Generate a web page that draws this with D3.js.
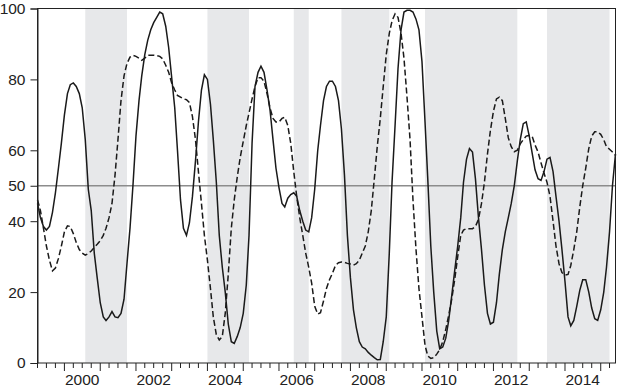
<!DOCTYPE html>
<html><head><meta charset="utf-8">
<script src="https://cdn.jsdelivr.net/npm/d3@7"></script>
<style>body{margin:0;background:#fff}svg{display:block;font-family:"Liberation Sans",Arial,sans-serif}</style>
</head><body><svg id="c" width="617" height="388"></svg>
<script>
// monthly observations from 1999-04 to 2015-06
const startMonth = "1999-04";
const endMonth = "2015-06";
const solidSeries = [
45,41,38.5,37.5,38.5,42.5,48,55,62,
70,76,78.5,79,78,76,72,63,49,43,31,24,
17,13,12,13,14.5,13,12.8,14,18,28,38,50,
64,74,81,87,91,94,96,97.5,99,98.5,95,89,
80.5,72,60,46,38,36,39.5,47,57,68,77,81.3,
80,73,63,51,36,27,20,11,6,5.5,7.5,10,
14,22,36,62,78,82,83.7,82,77,71.5,63,55,
49.5,45,44,46.5,47.5,48,47,43,40,37.5,37,41,
49,60,67,74,78,79.5,79.5,78,74,66,53,36,
24,15,10,6,4.5,4,3,2.2,1.5,0.9,1,6,
13,31,51,67,83,94,99,99.5,99.5,99,97,94,
85,68,52,33,20,9,4,4.5,7,12,19,26,
33,41,51,57.5,60.5,59.5,52,41,32,22,14,11,
11.5,17,25,32,37,41,45,50,57,63,67.5,68,
64,59,54.5,52,51.5,54,57.5,58,54,47,40,32,
23,13,10.5,12,16,20.5,23.5,23.5,20,15.5,12.5,12,
15,20,27,37,50,59];
const dashedSeries = [
46,43,38,33,29,26,26.8,29.5,33,
37,38.7,38.5,36.5,34,32,31,30.4,30.9,31.6,32.6,33.5,
34.5,36,38,41,45,53,63,74,81,84.5,86.3,86.8,
86.5,86,85.4,86,86.8,86.8,86.8,86.7,86.5,85.8,84,82,
79,77,75.5,75,74.5,74.3,73.5,69.5,63,54,45,36,
29,21,13,8,6.5,7.5,14,25,38,46,52.5,58,
62.5,67,70.5,74.5,78,80.5,80.5,79.5,76,72,69,68,
68,69,69.3,67,62,54,47,41,36,31,27,22.5,
16,13.8,14.2,17.5,21,23.5,25.3,27.5,28.3,28.5,28.4,28.1,
27.9,27.6,28,29,31,33,37,43,52,61,69,78,
87,93,96.5,98.5,97.5,93,86,75,63,46,32,21,
13,5,2,1.3,1.5,2.5,3.8,6,9.5,13.5,18,23.5,
30,36,37.5,37.9,37.9,37.9,38.5,40.5,45,51,59,65.6,
71,74.5,75,74,69,63.5,61,59.6,60,61.8,63,64,
64.2,63.8,61.5,59.5,56.5,53.5,51,47,40,33,28,25.5,
24.8,25,27.5,32,37,44,50,55,60.5,64,65.2,65.2,
64.5,63,61,60.3,59.5,58.6];
const shadeStarts = ["2000-08","2004-01","2006-06","2007-10","2010-02","2013-07"];
const shadeEnds   = ["2001-10","2005-03","2006-11","2009-02","2012-09","2015-04"];
const yTicks = [0,20,40,50,60,80,100];
const yearLabels = [2000,2002,2004,2006,2008,2010,2012,2014];
const refLevel = 50;

const parse = d3.timeParse("%Y-%m");
const t0 = parse(startMonth), t1 = parse(endMonth);
const months = d3.timeMonth.range(t0, d3.timeMonth.offset(t1, 1));

const L = 37.5, R = 615.5, T = 8.5, B = 363;
const x = d3.scaleTime().domain([t0, t1]).range([L, R]);
const y = d3.scaleLinear().domain([0, 100]).range([B, T]);
const svg = d3.select("#c");

// shaded periods
svg.append("g").selectAll("rect").data(shadeStarts.map((s,i)=>[parse(s), parse(shadeEnds[i])]))
  .join("rect")
  .attr("x", d => x(d[0])).attr("width", d => x(d[1]) - x(d[0]))
  .attr("y", T).attr("height", B - T)
  .attr("fill", "#e7e8ea");

// reference line
svg.append("line").attr("x1", L).attr("x2", R).attr("y1", y(refLevel)).attr("y2", y(refLevel))
  .attr("stroke", "#8c8c8c").attr("stroke-width", 1.5);

const line = d3.line().x((d,i)=>x(months[i])).y(d=>y(d));
svg.append("path").attr("d", line(dashedSeries)).attr("fill","none")
  .attr("stroke","#1a1a1a").attr("stroke-width",1.5).attr("stroke-dasharray","6,3");
svg.append("path").attr("d", line(solidSeries)).attr("fill","none")
  .attr("stroke","#1a1a1a").attr("stroke-width",1.5);

// frame
svg.append("rect").attr("x", L).attr("y", T).attr("width", R - L).attr("height", B - T)
  .attr("fill","none").attr("stroke","#222").attr("stroke-width",1);

// y axis
const yAxis = d3.axisLeft(y).tickValues(yTicks).tickSize(7).tickPadding(5).tickFormat(d3.format("d"));
const gy = svg.append("g").attr("transform", `translate(${L},0)`).call(yAxis);
gy.select(".domain").attr("stroke","#222");
gy.selectAll(".tick line").attr("stroke","#222");
gy.selectAll("text").attr("font-size","15.5px").attr("fill","#222").attr("font-family","Liberation Sans, Arial, sans-serif");

// x axis: quarterly ticks, longer at year starts
const qTicks = d3.timeMonth.every(3).range(t0, d3.timeMonth.offset(t1, 1));
const gx = svg.append("g");
gx.selectAll("line").data(qTicks).join("line")
  .attr("x1", d => x(d)).attr("x2", d => x(d))
  .attr("y1", B).attr("y2", d => B + (d.getMonth() === 0 ? 8 : 5))
  .attr("stroke","#222").attr("stroke-width",1);
gx.selectAll("text").data(yearLabels).join("text")
  .attr("x", d => x(new Date(d, 6, 1))).attr("y", 384.5)
  .attr("text-anchor","middle").attr("font-size","15.5px").attr("fill","#222")
  .text(d => d);
</script></body></html>
